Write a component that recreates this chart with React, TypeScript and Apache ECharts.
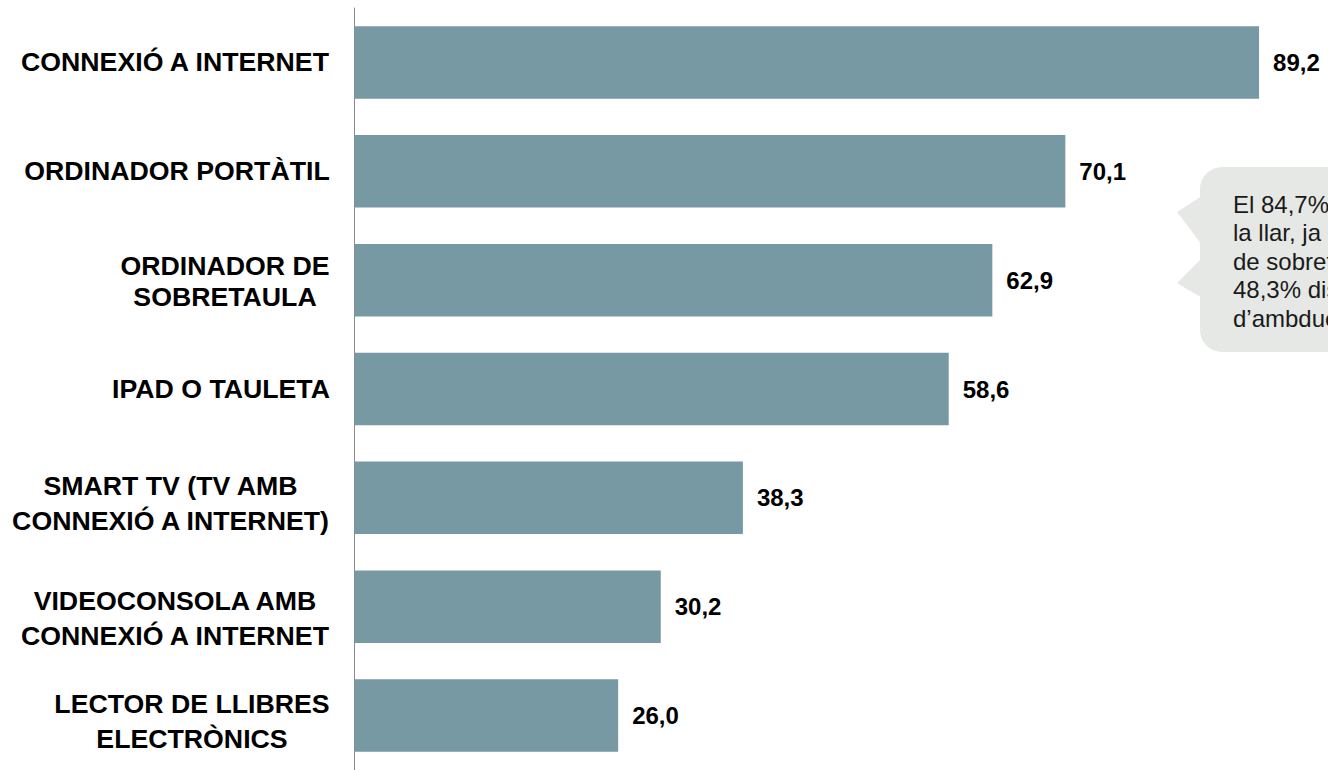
import React, { useEffect, useRef } from "react";
import * as echarts from "echarts";

const categories: string[] = [
  "CONNEXIÓ A INTERNET",
  "ORDINADOR PORTÀTIL",
  "ORDINADOR DE\nSOBRETAULA",
  "IPAD O TAULETA",
  "SMART TV (TV AMB\nCONNEXIÓ A INTERNET)",
  "VIDEOCONSOLA AMB\nCONNEXIÓ A INTERNET",
  "LECTOR DE LLIBRES\nELECTRÒNICS",
];
const values: number[] = [89.2, 70.1, 62.9, 58.6, 38.3, 30.2, 26.0];
const calloutLines: string[] = [
  "El 84,7% disposa d’ordinador a",
  "la llar, ja sigui portàtil o",
  "de sobretaula. Un",
  "48,3% disposa",
  "d’ambdues coses",
];

// label styling (line spacing and small vertical nudges per label)
const labelLineHeights = [31, 31, 31, 31, 35, 35, 35];
const labelTopSpacer = [0, 0, 3, 0, 11, 24, 12];

const FAMILY = '"Liberation Sans", Arial, sans-serif';
const LABEL_SIZE = 26.7;
const LABEL_FONT = `bold ${LABEL_SIZE}px ${FAMILY}`;

function measure(text: string, font: string): number {
  const c = document.createElement("canvas");
  const ctx = c.getContext("2d");
  if (!ctx) return text.length * 15;
  ctx.font = font;
  return ctx.measureText(text).width;
}

export default function App() {
  const ref = useRef<HTMLDivElement>(null);
  useEffect(() => {
    if (!ref.current) return;
    const chart = echarts.init(ref.current, undefined, { renderer: "svg" });
    const rich: Record<string, any> = {};
    categories.forEach((cat, i) => {
      const w = Math.max(...cat.split("\n").map((l) => measure(l, LABEL_FONT)));
      rich["c" + i] = {
        width: Math.ceil(w) + 1,
        align: "center",
        fontSize: LABEL_SIZE,
        fontWeight: "bold",
        fontFamily: FAMILY,
        color: "#000",
        lineHeight: labelLineHeights[i],
      };
      rich["s" + i] = {
        fontSize: 2,
        lineHeight: labelTopSpacer[i],
        height: labelTopSpacer[i],
        color: "transparent",
      };
    });
    const boxX = 1200;
    const boxTop = 167;
    const boxBottom = 352;
    chart.setOption({
      animation: false,
      grid: { left: 354.5, top: 8, width: 973.5, height: 768, containLabel: false },
      xAxis: {
        type: "value",
        min: 0,
        max: 96,
        show: false,
      },
      yAxis: {
        type: "category",
        data: categories,
        inverse: true,
        axisLine: { show: true, lineStyle: { color: "#8a8a8a", width: 1 } },
        axisTick: { show: false },
        axisLabel: {
          margin: 24,
          align: "right",
          formatter: (v: string, idx: number) => {
            const body = v
              .split("\n")
              .map((l) => `{c${idx}|${l}}`)
              .join("\n");
            return labelTopSpacer[idx] > 0 ? `{s${idx}| }\n` + body : body;
          },
          rich,
        },
      },
      series: [
        {
          type: "bar",
          data: values,
          barCategoryGap: "33.4%",
          itemStyle: { color: "#7699a4" },
          label: {
            show: true,
            position: "right",
            distance: 14,
            formatter: (p: any) => p.value.toFixed(1).replace(".", ","),
            fontSize: 24,
            fontWeight: "bold",
            fontFamily: FAMILY,
            color: "#000",
          },
        },
      ],
      graphic: [
        {
          type: "rect",
          shape: { x: boxX, y: boxTop, width: 200, height: boxBottom - boxTop, r: 22 },
          style: { fill: "#e6e8e5" },
          silent: true,
        },
        {
          type: "polygon",
          shape: {
            points: [
              [boxX + 2, 196],
              [1177, 212],
              [boxX + 2, 245],
              [boxX + 2, 258],
              [1177, 283],
              [boxX + 2, 298],
            ],
          },
          style: { fill: "#e6e8e5" },
          silent: true,
        },
        {
          type: "text",
          x: 1233,
          y: 190,
          style: {
            text: calloutLines.join("\n"),
            fontSize: 24,
            lineHeight: 28.5,
            fontFamily: FAMILY,
            fill: "#1a1a1a",
          },
          silent: true,
        },
      ],
    });
    return () => chart.dispose();
  }, []);
  return (
    <div
      ref={ref}
      style={{ position: "absolute", left: 0, top: 0, width: 1328, height: 770 }}
    />
  );
}
